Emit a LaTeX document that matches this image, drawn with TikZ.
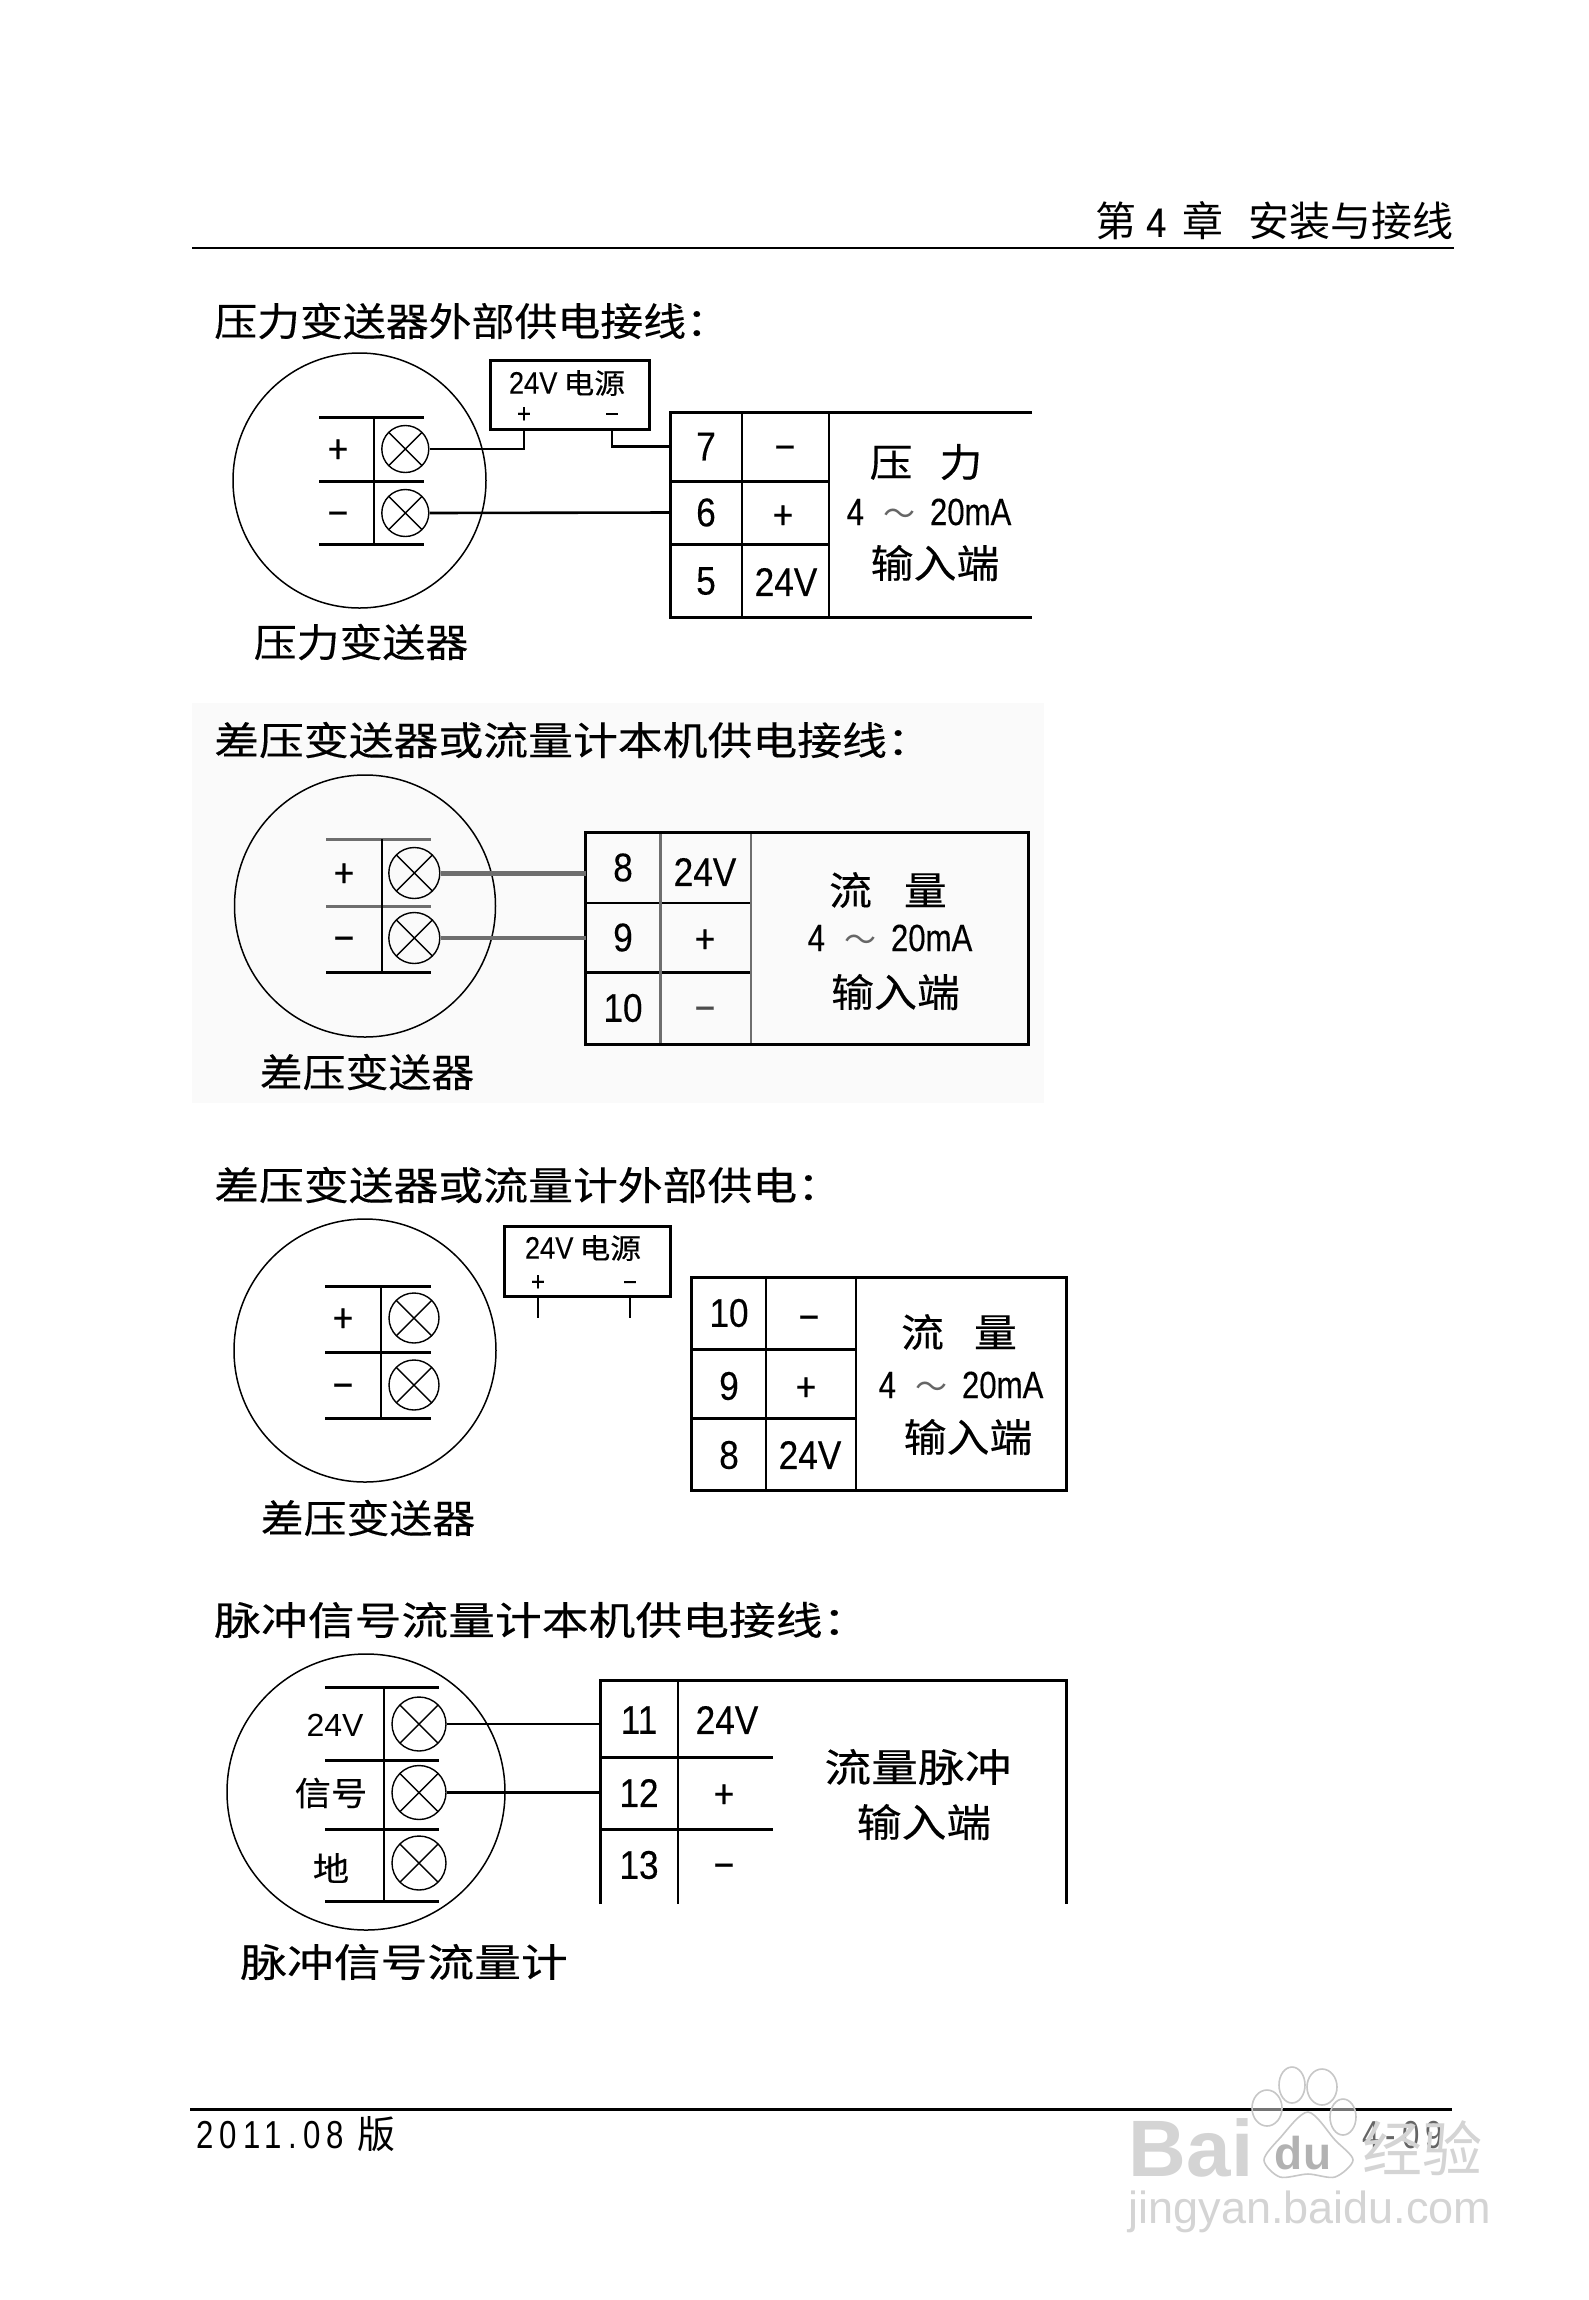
\documentclass[tikz,border=0pt]{standalone}
\usepackage{fontspec}
\usetikzlibrary{shapes.geometric,calc}
\setmainfont{Liberation Sans}
\newfontfamily\nf[FakeStretch=0.88,FakeBold=0.25]{Liberation Sans}
\newfontfamily\nfs[FakeStretch=0.82,FakeBold=0.25]{Liberation Sans}
\newfontfamily\nfw[FakeStretch=0.8,LetterSpace=16]{Liberation Sans}
\newfontfamily\cjk{Noto Sans CJK SC}
\newfontfamily\cjka[FakeStretch=1.10,FakeBold=0.3]{Noto Sans CJK SC}
\newfontfamily\cjkb[FakeStretch=1.15,FakeBold=0.3]{Noto Sans CJK SC}
\newfontfamily\cjkc[FakeStretch=1.20,FakeBold=0.3]{Noto Sans CJK SC}
\newfontfamily\wmf{Liberation Sans}
\newcommand{\fa}{\cjka\fontsize{39}{42}\selectfont}
\newcommand{\fb}{\cjkb\fontsize{39}{42}\selectfont}
\newcommand{\fc}{\cjkc\fontsize{39}{42}\selectfont}
\newcommand{\numf}{\nf\fontsize{40}{42}\selectfont}
\newcommand{\maf}{\nfs\fontsize{38}{40}\selectfont}
\newcommand{\smf}{\nf\fontsize{31}{33}\selectfont}
\newcommand{\srcf}{\cjka\fontsize{28}{30}\selectfont}
\newcommand{\tld}{{\cjk\fontsize{32}{34}\selectfont\color{black!60}～}}
\newcommand{\marange}{4\hspace{20pt}\tld\hspace{14pt}20mA}
\definecolor{soft}{HTML}{6E6E6E}
\tikzset{
  x=1pt,y=-1pt,
  ttl/.style={anchor=west,inner sep=0pt},
  lab/.style={inner sep=0pt},
  num/.style={inner sep=0pt,font=\numf},
  mns/.style={inner sep=0pt,font=\numf,yshift=-6pt},
  pls/.style={inner sep=0pt,font=\numf,yshift=-3pt},
  smm/.style={inner sep=0pt,font=\nf\fontsize{27}{30}\selectfont,yshift=-5pt},
  smp/.style={inner sep=0pt,font=\nf\fontsize{27}{30}\selectfont,yshift=-2pt},
  cell/.style={rectangle,inner sep=0pt,outer sep=0pt,font=\numf},
  ring/.style={ellipse,draw,line width=1.5pt,inner sep=0pt},
  screw/.style={ellipse,draw,line width=1.4pt,inner sep=0pt,minimum width=#1,minimum height=#1,
    path picture={\draw[line width=1.4pt] (path picture bounding box.south west)--(path picture bounding box.north east)
      (path picture bounding box.north west)--(path picture bounding box.south east);}},
  heavy/.style={line width=3pt},
  thn/.style={line width=2pt},
  wire/.style={line width=2.6pt},
  wm/.style={draw=black!22,line width=1.6pt,fill=white,fill opacity=0.45},
  wmt/.style={inner sep=0pt,text=black!17},
}
\begin{document}
\begin{tikzpicture}
\useasboundingbox (0,0) rectangle (1588,2300);
\fill[white] (0,0) rectangle (1588,2300);
% page header
\draw[line width=2.6pt] (192,248) -- (1454,248);
\node[anchor=west,inner sep=0pt,font=\cjk\fontsize{41}{43}\selectfont] (hdr) at (1095,221) {第\hspace{10pt}{\nf 4}\hspace{16pt}章\hspace{25pt}安装与接线};
% page footer
\draw[line width=3pt] (190,2109) -- (1452,2109);
\node[anchor=west,inner sep=0pt] (ftr) at (196,2134) {{\nfw\fontsize{39}{42}\selectfont 2011.08}\hspace{13pt}{\cjk\fontsize{38}{40}\selectfont 版}};
\node[anchor=west,inner sep=0pt,text=black!60,font=\nfw\fontsize{39}{41}\selectfont] (pg) at (1362,2135) {4-09};

%=== panel 1
\node[ttl,font=\fa] (t1) at (214,321) {压力变送器外部供电接线：};
\node[ring,minimum width=253,minimum height=255] (c1) at (359.5,480.5) {};
\draw[heavy] (319,417)--(424,417) (319,481)--(424,481) (319,544)--(424,544);
\draw[thn] (374,417)--(374,544);
\node[screw=47] (s1a) at (405.3,449) {};
\node[screw=47] (s1b) at (405.3,513) {};
\node[pls] (p1a) at (338,448) {+};
\node[mns] (p1b) at (338,513) {−};
\node[draw,heavy,rectangle,minimum width=159,minimum height=69,inner sep=0pt] (b1) at (570,395) {};
\node[inner sep=0pt,font=\smf] (b1t) at (567,383) {24V\hspace{6pt}{\srcf 电源}};
\node[smp] (b1p) at (524,413) {+};
\node[smm] (b1m) at (612,413) {−};
\coordinate (b1pc) at (524,429.5);
\coordinate (b1mc) at (612,429.5);
\node[cell,minimum width=72,minimum height=69] (a7) at (706,446.5) {7};
\node[cell,minimum width=72,minimum height=63] (a6) at (706,512.5) {6};
\node[cell,minimum width=72,minimum height=73] (a5) at (706,581) {5};
\node[mns] (am) at (785,447) {−};
\node[pls] (ap) at (783,514) {+};
\node[cell] (a24) at (786,582) {24V};
\draw[heavy] (1032,412)--(670,412)--(670,617)--(1032,617);
\draw[heavy] (670,481)--(829,481) (670,544)--(829,544);
\draw[thn] (742,412)--(742,617) (829,412)--(829,617);
\node[lab,font=\fa] (a1) at (926,462) {压\hspace{27pt}力};
\node[lab,font=\maf] (a2) at (929,512) {\marange};
\node[lab,font=\fa] (a3) at (935,563) {输入端};
\draw[wire] (s1a.east) -| (b1pc);
\draw[wire] (b1mc) |- (a7.west);
\draw[wire] (s1b.east) -- (a6.west);
\node[lab,font=\fa] (l1) at (361,642) {压力变送器};

%=== panel 2
\fill[black!2] (192,703) rectangle (1044,1103);
\node[ttl,font=\fb] (t2) at (214,740) {差压变送器或流量计本机供电接线：};
\node[ring,minimum width=261,minimum height=262] (c2) at (365,906) {};
\draw[heavy,soft] (326,839)--(431,839) (326,906)--(431,906);
\draw[heavy] (326,972)--(431,972);
\draw[thn] (382,839)--(382,972);
\node[screw=51] (s2a) at (414.3,873) {};
\node[screw=51] (s2b) at (414.3,938) {};
\node[pls] (p2a) at (344,872) {+};
\node[mns] (p2b) at (344,938) {−};
\node[cell,minimum width=75,minimum height=71] (b8) at (623,867.5) {8};
\node[cell,minimum width=75,minimum height=69] (b9) at (623,937.5) {9};
\node[cell,minimum width=75,minimum height=72] (b10) at (623,1008) {10};
\node[cell] (b24) at (705,872) {24V};
\node[pls] (bp) at (705,938) {+};
\node[mns,text=black!70] (bm) at (705,1008) {−};
\draw[thn] (585,903)--(751,903);
\draw[heavy] (585,972)--(751,972);
\draw[heavy,soft] (660.4,832)--(660.4,1044);
\draw[thn,soft] (750.7,832)--(750.7,1044);
\draw[heavy] (585,832) rectangle (1028,1044);
\node[lab,font=\fa] (b1l) at (888,890) {流\hspace{32pt}量};
\node[lab,font=\maf] (b2l) at (890,938) {\marange};
\node[lab,font=\fa] (b3l) at (895.5,992) {输入端};
\draw[line width=5pt,soft] (s2a.east) -- (b8.west |- s2a.east);
\draw[line width=3.6pt,soft] (s2b.east) -- (b9.west |- s2b.east);
\node[lab,font=\fa] (l2) at (367,1072) {差压变送器};

%=== panel 3
\node[ttl,font=\fb] (t3) at (214,1185) {差压变送器或流量计外部供电：};
\node[ring,minimum width=262,minimum height=263] (c3) at (365,1350.5) {};
\draw[heavy] (325,1286)--(431,1286) (325,1352)--(431,1352) (325,1418)--(431,1418);
\draw[thn] (381,1286)--(381,1418);
\node[screw=50] (s3a) at (414,1318) {};
\node[screw=50] (s3b) at (414,1385) {};
\node[pls] (p3a) at (343,1317) {+};
\node[mns] (p3b) at (343,1385) {−};
\node[draw,heavy,rectangle,minimum width=166,minimum height=70,inner sep=0pt] (b3) at (587,1261) {};
\node[inner sep=0pt,font=\smf] (b3t) at (583,1248) {24V\hspace{6pt}{\srcf 电源}};
\node[smp] (b3p) at (538,1281) {+};
\node[smm] (b3m) at (630,1281) {−};
\coordinate (b3pc) at (538,1296);
\coordinate (b3mc) at (630,1296);
\coordinate (b3pe) at (538,1318);
\coordinate (b3me) at (630,1318);
\draw[thn] (b3pc)--(b3pe) (b3mc)--(b3me);
\node[cell] (c10) at (729,1313) {10};
\node[cell] (c9) at (729,1386) {9};
\node[cell] (c8) at (729,1455) {8};
\node[mns] (cm) at (809,1317) {−};
\node[pls] (cp) at (806,1386) {+};
\node[cell] (c24) at (810,1455) {24V};
\draw[heavy] (691,1277) rectangle (1066,1490);
\draw[heavy] (691,1349)--(856,1349) (691,1418)--(856,1418);
\draw[thn] (766,1277)--(766,1490) (856,1277)--(856,1490);
\node[lab,font=\fa] (c1l) at (959,1332) {流\hspace{30pt}量};
\node[lab,font=\maf] (c2l) at (961,1385) {\marange};
\node[lab,font=\fa] (c3l) at (968,1437) {输入端};
\node[lab,font=\fa] (l3) at (368,1518) {差压变送器};

%=== panel 4
\node[ttl,font=\fc] (t4) at (214,1620) {脉冲信号流量计本机供电接线：};
\node[ring,minimum width=278,minimum height=276] (c4) at (366,1792) {};
\draw[heavy] (325,1687)--(439,1687) (325,1760)--(439,1760) (325,1829)--(439,1829) (325,1901)--(439,1901);
\draw[thn] (384,1687)--(384,1901);
\node[screw=54] (s4a) at (419,1724) {};
\node[screw=54] (s4b) at (419,1792.5) {};
\node[screw=54] (s4c) at (419,1863) {};
\node[inner sep=0pt,font=\wmf\fontsize{32}{34}\selectfont] (p4a) at (335,1725) {24V};
\node[inner sep=0pt,font=\cjka\fontsize{33}{36}\selectfont] (p4b) at (331,1793) {信号};
\node[inner sep=0pt,font=\cjka\fontsize{33}{36}\selectfont] (p4c) at (331,1868) {地};
\node[cell,minimum width=77,minimum height=77] (d11) at (639,1720) {11};
\node[cell,minimum width=77,minimum height=72] (d12) at (639,1793) {12};
\node[cell] (d13) at (639,1865) {13};
\node[cell] (d24) at (727,1720) {24V};
\node[pls] (dp) at (724,1793) {+};
\node[mns] (dm) at (724,1865) {−};
\draw[heavy] (600.5,1904)--(600.5,1680)--(1066,1680)--(1066,1904);
\draw[heavy] (600.5,1757)--(773,1757) (600.5,1829)--(773,1829);
\draw[thn] (678,1680)--(678,1904);
\node[lab,font=\fc] (d1l) at (918,1767) {流量脉冲};
\node[lab,font=\fb] (d2l) at (924,1822) {输入端};
\draw[wire] (s4a.east) -- (d11.west |- s4a.east);
\draw[wire] (s4b.east) -- (d12.west |- s4b.east);
\node[lab,font=\fc] (l4) at (404,1962) {脉冲信号流量计};

%=== watermark
\node[wmt,font=\wmf\bfseries\fontsize{80}{82}\selectfont] (wbai) at (1191,2148) {Bai};
\node[wmt,font=\cjk\fontsize{60}{62}\selectfont] (wjy) at (1422,2148) {经验};
\node[wmt,font=\wmf\fontsize{45}{47}\selectfont] (wurl) at (1310,2212) {jingyan.baidu.com};
\filldraw[wm] (1267,2108) ellipse (15 and 18);
\filldraw[wm] (1292,2085) ellipse (13 and 18);
\filldraw[wm] (1322,2087) ellipse (15 and 18);
\filldraw[wm] (1343,2117) ellipse (13 and 18);
\filldraw[wm] plot[smooth cycle] coordinates {(1308,2112) (1335,2140) (1353,2160) (1335,2177) (1308,2174) (1280,2177) (1264,2160) (1280,2138)};
\node[wmt,font=\wmf\bfseries\fontsize{46}{48}\selectfont,text=black!30] (wdu) at (1303,2153) {du};
\end{tikzpicture}
\end{document}
